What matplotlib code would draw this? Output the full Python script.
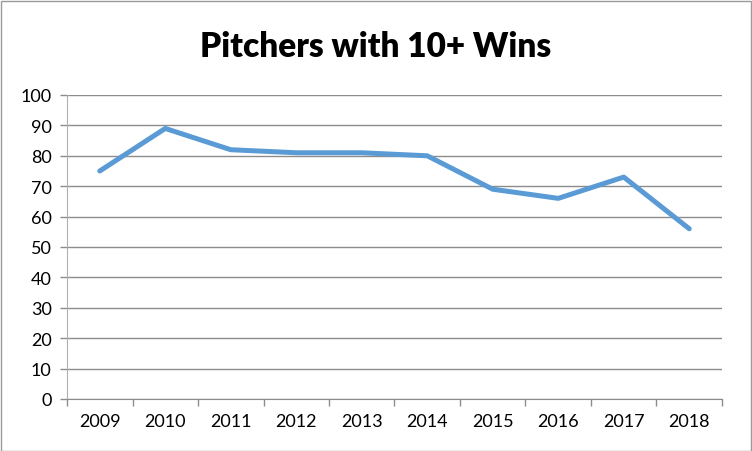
import matplotlib.pyplot as plt
from matplotlib.patches import Rectangle

years = ['2009', '2010', '2011', '2012', '2013', '2014', '2015', '2016', '2017', '2018']
wins = [75, 89, 82, 81, 81, 80, 69, 66, 73, 56]

plt.rcParams['font.family'] = ['Lato', 'DejaVu Sans']

fig = plt.figure(figsize=(7.52, 4.52), dpi=100)
ax = fig.add_axes([67 / 752, 52 / 452, 655 / 752, 304 / 452])

x = list(range(len(years)))
ax.plot(x, wins, color='#5B9BD5', lw=3.6, solid_capstyle='round', solid_joinstyle='round')

ax.set_xlim(-0.5, len(years) - 0.5)
ax.set_ylim(0, 100)
ax.set_yticks(range(0, 101, 10))
ax.set_xticks(x)
ax.set_xticklabels(years)
ax.set_xticks([i - 0.5 for i in range(len(years) + 1)], minor=True)
ax.tick_params(axis='x', which='major', length=0, pad=10, labelsize=13)
ax.tick_params(axis='x', which='minor', length=5, color='#8c8c8c', width=1)
ax.tick_params(axis='y', length=5, color='#8c8c8c', width=1, pad=6, labelsize=13)

ax.grid(axis='y', color='#8c8c8c', lw=1)
ax.set_axisbelow(True)
for s in ['top', 'right']:
    ax.spines[s].set_visible(False)
ax.spines['left'].set_color('#b0b0b0')
ax.spines['bottom'].set_color('#8c8c8c')

fig.text(0.5, 1 - 47 / 452, 'Pitchers with 10+ Wins', ha='center', va='center',
         fontsize=24, fontweight='heavy')

fig.patches.append(Rectangle((0.5 / 752, 0.5 / 452), 750 / 752, 450 / 452,
                             transform=fig.transFigure, fill=False,
                             edgecolor='#9a9a9a', lw=1))

fig.savefig('out.png', dpi=100)
